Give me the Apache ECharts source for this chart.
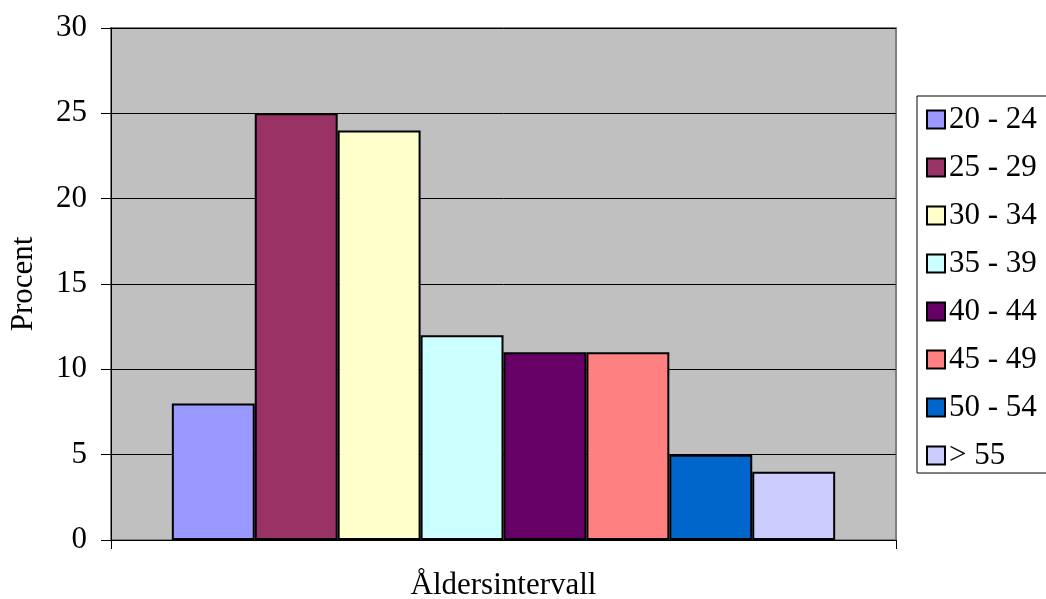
<!DOCTYPE html>
<html>
<head>
<meta charset="utf-8">
<script src="https://cdn.jsdelivr.net/npm/echarts@6/dist/echarts.min.js"></script>
<style>
html,body{margin:0;padding:0;background:#fff;}
#chart{width:1046px;height:599px;}
</style>
</head>
<body>
<div id="chart"></div>
<script>
const categories = [''];
const seriesNames = ['20 - 24', '25 - 29', '30 - 34', '35 - 39', '40 - 44', '45 - 49', '50 - 54', '> 55'];
const seriesValues = [8, 25, 24, 12, 11, 11, 5, 4];
const seriesColors = ['#9999FF', '#993366', '#FFFFCC', '#CCFFFF', '#660066', '#FF8080', '#0066CC', '#CCCCFF'];
const yTicks = [0, 5, 10, 15, 20, 25, 30];

const font = '"Liberation Serif", "Times New Roman", serif';
const fs = 31;
const chart = echarts.init(document.getElementById('chart'), null, {renderer: 'canvas'});
chart.setOption({
  animation: false,
  textStyle: {fontFamily: font, color: '#000'},
  grid: {
    left: 111, right: 150, top: 28, bottom: 59,
    containLabel: false,
    outerBoundsMode: 'none',
    show: true, backgroundColor: '#C0C0C0', borderColor: '#808080', borderWidth: 2
  },
  legend: {
    orient: 'vertical',
    left: 917, top: 96,
    backgroundColor: '#fff',
    borderColor: '#000', borderWidth: 1,
    padding: [8, 40, 2, 9],
    itemWidth: 18, itemHeight: 18, itemGap: 17,
    icon: 'rect',
    itemStyle: {borderColor: '#000', borderWidth: 2},
    textStyle: {fontFamily: font, fontSize: fs, color: '#000', lineHeight: 30, padding: [0, 0, 0, -1]},
    data: seriesNames
  },
  xAxis: {
    type: 'category',
    data: categories,
    name: 'Åldersintervall',
    nameLocation: 'middle',
    nameGap: 30,
    nameTextStyle: {fontFamily: font, fontSize: fs, color: '#000', verticalAlign: 'top'},
    axisLine: {lineStyle: {color: '#000', width: 1}},
    axisTick: {show: true, inside: false, length: 9, lineStyle: {color: '#000'}},
    axisLabel: {show: false}
  },
  yAxis: {
    type: 'value',
    min: yTicks[0], max: yTicks[yTicks.length - 1], interval: 5,
    name: 'Procent',
    nameLocation: 'middle',
    nameGap: 72,
    nameTextStyle: {fontFamily: font, fontSize: fs, color: '#000'},
    axisLine: {show: true, lineStyle: {color: '#000', width: 1}},
    axisTick: {show: true, length: 10, lineStyle: {color: '#000'}},
    axisLabel: {fontFamily: font, fontSize: fs, color: '#000', margin: 24},
    splitLine: {show: true, lineStyle: {color: '#000', width: 1}}
  },
  series: seriesNames.map((n, i) => ({
    name: n,
    type: 'bar',
    data: [seriesValues[i]],
    barGap: '0%',
    barCategoryGap: '15.5%',
    itemStyle: {color: seriesColors[i], borderColor: '#000', borderWidth: 2}
  }))
});
</script>
</body>
</html>
